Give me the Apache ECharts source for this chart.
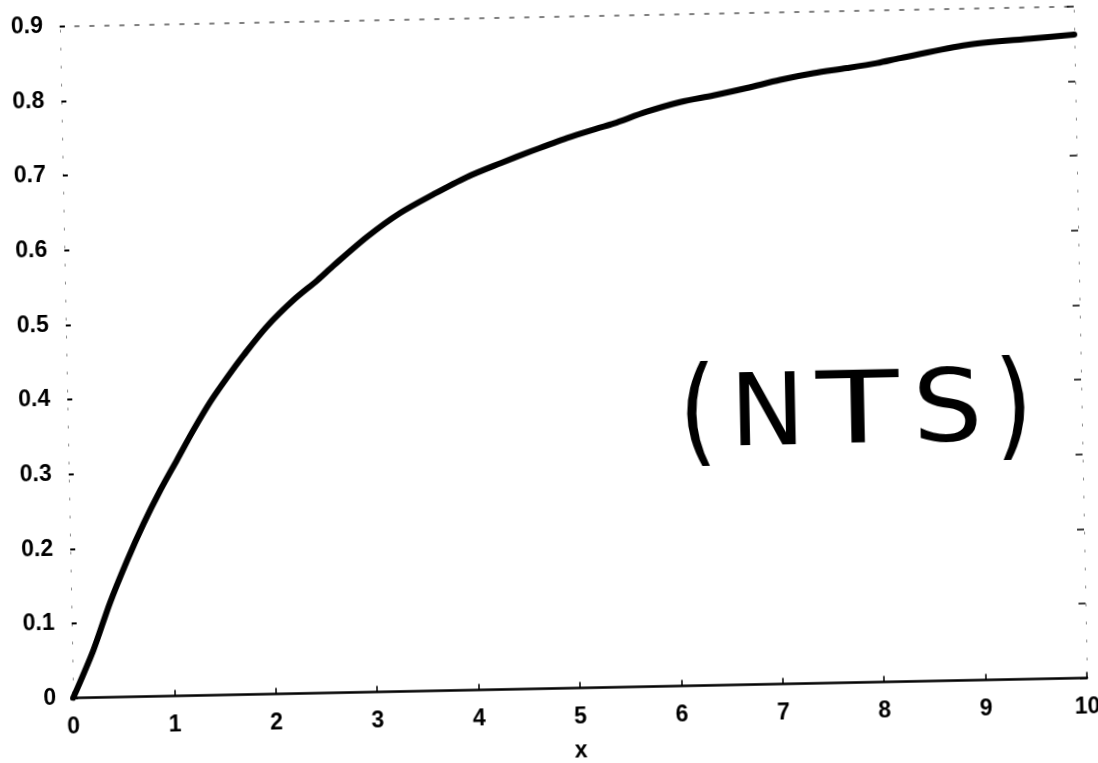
<!DOCTYPE html>
<html>
<head>
<meta charset="utf-8">
<script src="https://cdn.jsdelivr.net/npm/echarts@6/dist/echarts.min.js"></script>
<style>
  html, body { margin: 0; padding: 0; background: #fff; overflow: hidden; }
  #chart {
    width: 1098px; height: 763px;
    transform: rotate(-1.13deg);
    transform-origin: 549px 381.5px;
  }
</style>
</head>
<body>
<div id="chart"></div>
<script>
// Curve samples (x, y)
const xValues = [0, 0.21, 0.38, 0.56, 0.73, 0.90, 1.07, 1.24, 1.41, 1.58, 1.75, 1.98,
  2.25, 2.49, 2.65, 2.99, 3.32, 3.65, 3.98, 4.32, 4.64, 4.98, 5.28, 5.44, 5.77,
  6.10, 6.43, 6.76, 7.09, 7.42, 7.75, 8.05, 8.28, 8.94, 9.60, 10.0];
const yValues = [0, 0.064, 0.126, 0.183, 0.232, 0.276, 0.316, 0.356, 0.393, 0.425, 0.455, 0.492,
  0.527, 0.553, 0.572, 0.610, 0.641, 0.665, 0.687, 0.705, 0.721, 0.737, 0.749, 0.755, 0.770,
  0.782, 0.790, 0.799, 0.809, 0.817, 0.823, 0.829, 0.835, 0.851, 0.858, 0.862];

// Axis ranges and tick steps
const xRange = [0, 10];
const xStep = 1;
const yRange = [0, 0.9];
const yStep = 0.1;
const xAxisTitle = 'x';
const noteText = ['(', 'N', 'T', 'S', ')'];

const curve = xValues.map((x, i) => [x, yValues[i]]);

const chart = echarts.init(document.getElementById('chart'), null, { renderer: 'canvas' });

const labelFont = {
  color: '#000',
  fontFamily: '"Liberation Sans", Arial, sans-serif',
  fontSize: 23,
  fontWeight: 'bold'
};
const sparseLine = { show: true, onZero: false, lineStyle: { color: '#888', width: 1, type: [2, 16] } };

// Letter layout of the "(NTS)" note
const notePos = [
  { x: 697, size: 118, sx: 0.82 },
  { x: 767, size: 100, sx: 1.0 },
  { x: 857, size: 100, sx: 1.35 },
  { x: 947, size: 100, sx: 1.1 },
  { x: 1013, size: 118, sx: 0.82 }
];
const noteY = 423;

chart.setOption({
  backgroundColor: '#fff',
  animation: false,
  grid: {
    left: 67, right: 17, top: 16.6, bottom: 74.4,
    containLabel: false,
    outerBoundsMode: 'none'
  },
  xAxis: [{
    type: 'value',
    min: xRange[0], max: xRange[1], interval: xStep,
    name: xAxisTitle,
    nameLocation: 'middle',
    nameGap: 52,
    nameTextStyle: labelFont,
    axisLine: { show: true, onZero: false, lineStyle: { color: '#000', width: 2.5 } },
    axisTick: { show: true, inside: true, length: 6, lineStyle: { color: '#000', width: 1.5 } },
    axisLabel: Object.assign({ margin: 18 }, labelFont),
    splitLine: { show: false }
  }, {
    type: 'value',
    position: 'top',
    min: xRange[0], max: xRange[1], interval: xStep,
    axisLine: { show: true, onZero: false, lineStyle: { color: '#555', width: 1.5, type: [4, 11] } },
    axisTick: { show: false },
    axisLabel: { show: false },
    splitLine: { show: false }
  }],
  yAxis: [{
    type: 'value',
    min: yRange[0], max: yRange[1], interval: yStep,
    axisLine: sparseLine,
    axisTick: { show: true, inside: true, length: 5, lineStyle: { color: '#000', width: 2 } },
    axisLabel: Object.assign({ margin: 17 }, labelFont),
    splitLine: { show: false }
  }, {
    type: 'value',
    position: 'right',
    min: yRange[0], max: yRange[1], interval: yStep,
    axisLine: sparseLine,
    axisTick: { show: true, inside: true, length: 7, lineStyle: { color: '#000', width: 1.5 } },
    axisLabel: { show: false },
    splitLine: { show: false }
  }],
  series: [{
    type: 'line',
    data: curve,
    smooth: 0.3,
    showSymbol: false,
    lineStyle: { color: '#000', width: 6, cap: 'round', join: 'round' }
  }],
  graphic: noteText.map((ch, i) => ({
    type: 'text',
    x: notePos[i].x,
    y: noteY,
    scaleX: notePos[i].sx,
    originX: 0,
    originY: 0,
    style: {
      text: ch,
      fill: '#000',
      font: 'normal ' + notePos[i].size + 'px "DejaVu Sans", sans-serif',
      align: 'center',
      verticalAlign: 'middle'
    }
  }))
});
</script>
</body>
</html>
